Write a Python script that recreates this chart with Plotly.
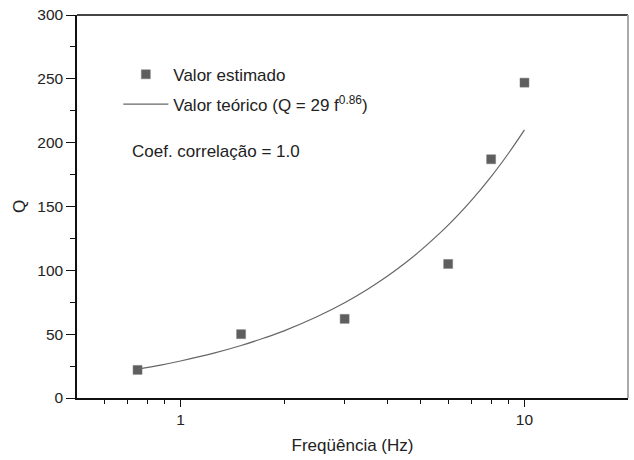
import plotly.graph_objects as go

# Estimated values
freq_est = [0.75, 1.5, 3, 6, 8, 10]
q_est = [22, 50, 62, 105, 187, 247]

# Theoretical curve samples
freq_theo = [0.75, 0.875, 1, 1.25, 1.5, 1.75, 2, 2.5, 3, 3.5, 4, 4.5, 5, 6, 7, 8, 9, 10]
q_theo = [22.6, 25.8, 29, 35.1, 41.1, 47, 52.6, 63.8, 74.6, 85.2, 95.5, 105.7, 115.8, 135.4, 154.6, 173.4, 191.9, 210]

x_major = [1, 10]
x_minor = [0.6, 0.7, 0.8, 0.9, 2, 3, 4, 5, 6, 7, 8, 9]
y_major = [0, 50, 100, 150, 200, 250, 300]

FONT = "Liberation Sans, Arial, Helvetica, sans-serif"
TXT = "#222222"

fig = go.Figure()
fig.add_trace(go.Scatter(
    x=freq_est, y=q_est, mode="markers", name="Valor estimado",
    marker=dict(symbol="square", size=9, color="#5e5e5e",
                line=dict(color="#7a7a7a", width=0.5)),
    legend="legend", showlegend=True,
))
fig.add_trace(go.Scatter(
    x=freq_theo, y=q_theo, mode="lines", name="Valor teórico (Q = 29 f<sup>0.86</sup>)",
    line=dict(color="#666666", width=1.2, shape="spline"),
    legend="legend2", showlegend=True,
))

L, R, T, B = 77, 6, 13, 62
fig.update_layout(
    width=634, height=460,
    margin=dict(l=L, r=R, t=T, b=B),
    paper_bgcolor="white", plot_bgcolor="white",
    showlegend=True,
    font=dict(family=FONT, color=TXT, size=17),
    legend=dict(x=0.075, y=0.844, xanchor="left", yanchor="middle",
                bgcolor="rgba(0,0,0,0)", font=dict(size=17, family=FONT, color=TXT),
                itemwidth=45, visible=True),
    legend2=dict(x=0.075, y=0.766, xanchor="left", yanchor="middle",
                 bgcolor="rgba(0,0,0,0)", font=dict(size=17, family=FONT, color=TXT),
                 itemwidth=45, visible=True),
    xaxis=dict(
        type="log", range=[-0.30103, 1.30103],
        tickvals=x_major, ticktext=["1", "10"],
        ticks="outside", ticklen=7, tickwidth=1.3, tickcolor="#111",
        showline=True, linecolor="#111", linewidth=1.5,
        showgrid=False, zeroline=False,
        tickfont=dict(size=15.5, family=FONT, color=TXT),
        title=dict(text="Freqüência (Hz)", font=dict(size=17, family=FONT, color=TXT), standoff=12),
        minor=dict(tickvals=x_minor, ticks="outside", ticklen=4, tickwidth=1.3,
                   tickcolor="#111", showgrid=False),
    ),
    yaxis=dict(
        range=[0, 300],
        tickvals=y_major,
        ticks="outside", ticklen=9, tickwidth=1.3, tickcolor="#111",
        showline=True, linecolor="#111", linewidth=1.5,
        showgrid=False, zeroline=False,
        tickfont=dict(size=15.5, family=FONT, color=TXT),
        title=dict(text="Q", font=dict(size=17, family=FONT, color=TXT), standoff=7),
        minor=dict(dtick=25, ticks="outside", ticklen=5, tickwidth=1.3,
                   tickcolor="#111", showgrid=False),
    ),
    annotations=[dict(
        x=0.096, y=0.644, xref="paper", yref="paper", xanchor="left", yanchor="middle",
        text="Coef. correlação = 1.0", showarrow=False,
        font=dict(size=17, family=FONT, color=TXT),
    )],
    shapes=[
        dict(type="line", xref="paper", yref="paper", x0=0, x1=1, y0=1, y1=1,
             line=dict(color="#444444", width=2.2)),
        dict(type="line", xref="paper", yref="paper", x0=1, x1=1, y0=0, y1=1,
             line=dict(color="#aaaaaa", width=2)),
    ],
)

fig.write_html("out.html")
